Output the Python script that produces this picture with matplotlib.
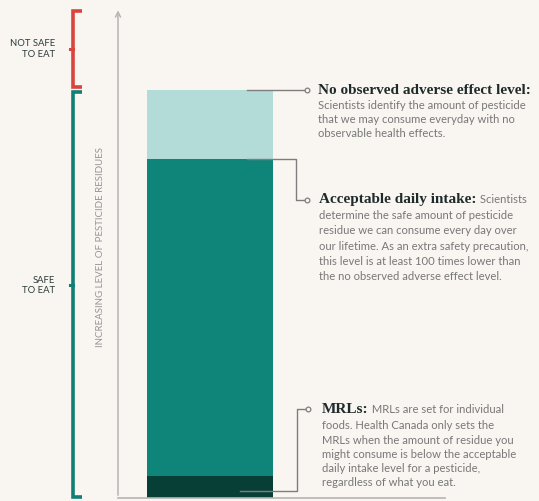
import numpy as np
import matplotlib.pyplot as plt

# levels of pesticide residue (arbitrary units, axis runs 0..100)
level_names = ["MRLs", "Acceptable daily intake", "No observed adverse effect level"]
level_values = [4.5, 69.5, 83.6]
level_colors = ["#073f36", "#0f857a", "#b3dcd8"]

# safety zones shown as brackets left of the axis
zone_labels = ["SAFE\nTO EAT", "NOT SAFE\nTO EAT"]
zone_bounds = [(0.2, 83.2), (84.2, 99.8)]
zone_notch = [43.6, 92.0]
zone_colors = ["#0f7f74", "#d8453c"]

# callout texts
titles = ["MRLs:", "Acceptable daily intake:", "No observed adverse effect level:"]
first_lines = [" MRLs are set for individual", " Scientists", ""]
bodies = [
    "foods. Health Canada only sets the\nMRLs when the amount of residue you\n"
    "might consume is below the acceptable\ndaily intake level for a pesticide,\n"
    "regardless of what you eat.",
    "determine the safe amount of pesticide\nresidue we can consume every day over\n"
    "our lifetime. As an extra safety precaution,\nthis level is at least 100 times lower than\n"
    "the no observed adverse effect level.",
    "Scientists identify the amount of pesticide\nthat we may consume everyday with no\n"
    "observable health effects.",
]
callout_y = [18.2, 61.1, 83.6]
body_spacing = [1.36, 1.48, 1.33]

bg = "#f9f6f2"
body_col = "#787878"

fig = plt.figure(figsize=(5.39, 5.01), dpi=100, facecolor=bg)
ax = fig.add_axes([118 / 539, 3 / 501, 327 / 539, 488 / 501])
ax.set_facecolor(bg)
ax.set_xlim(0, 1)
ax.set_ylim(0, 100)
for s in ["top", "right", "left"]:
    ax.spines[s].set_visible(False)
ax.spines["bottom"].set_color("#b5b5b5")
ax.spines["bottom"].set_linewidth(1.2)
ax.set_xticks([])
ax.set_yticks([])

# axis arrow
ax.annotate("", xy=(0, 100.5), xytext=(0, 0), xycoords="data",
            arrowprops=dict(arrowstyle="->", color="#b5b5b5", lw=1.1,
                            mutation_scale=9), annotation_clip=False)
ax.set_ylabel("INCREASING LEVEL OF PESTICIDE RESIDUES", fontsize=7,
              color="#959595", family="Lato")
ax.yaxis.set_label_coords(-0.04, 0.515)

# stacked bar
bar_x, bar_w = 0.282, 0.385
bottom = 0
for v, c in zip(level_values, level_colors):
    ax.bar(bar_x, v - bottom, bar_w, bottom=bottom, color=c, linewidth=0)
    bottom = v

# brackets
bx, cap, notch = -0.138, 0.028, 0.009
for (lo, hi), mid, lab, c in zip(zone_bounds, zone_notch, zone_labels, zone_colors):
    ax.plot([bx + cap, bx, bx, bx + cap], [hi, hi, lo, lo], color=c, lw=2.6,
            clip_on=False, solid_joinstyle="miter", solid_capstyle="butt")
    ax.plot([bx, bx - notch], [mid, mid], color=c, lw=2.2, clip_on=False)
    ax.text(-0.193, mid, lab, ha="right", va="center", fontsize=6.8,
            color="#2b3b3b", family="Lato", linespacing=1.2)

# leader lines
leader_start = [0.373, 0.396, 0.396]
leader_start_y = [1.4, 69.5, 83.6]
leader_bend = [0.547, 0.544, None]
leader_end = [0.581, 0.578, 0.578]
text_x = [0.624, 0.615, 0.612]
body_dy = [2.3, 2.1, 2.0]
for i in range(3):
    y0, y1 = leader_start_y[i], callout_y[i]
    if leader_bend[i] is None:
        xs, ys = [leader_start[i], leader_end[i]], [y0, y1]
    else:
        xs = [leader_start[i], leader_bend[i], leader_bend[i], leader_end[i]]
        ys = [y0, y0, y1, y1]
    ax.plot(xs, ys, color="#7d7d7d", lw=1.0, clip_on=False)
    ax.plot(leader_end[i], y1, "o", ms=3.4, mfc=bg, mec="#7d7d7d", mew=0.9,
            clip_on=False)
    t = ax.text(text_x[i], y1, titles[i], ha="left", va="center", fontsize=11,
                family="Liberation Serif", weight="bold", color="#1f2b2b")
    if first_lines[i]:
        ax.annotate(first_lines[i], xy=(1, y1), xycoords=(t, "data"),
                    ha="left", va="center", fontsize=8.1, family="Lato",
                    color=body_col)
    ax.text(text_x[i], y1 - body_dy[i], bodies[i],
            ha="left", va="top", fontsize=8.1, family="Lato",
            color=body_col, linespacing=body_spacing[i])

fig.savefig("out.png", dpi=100, facecolor=bg)
